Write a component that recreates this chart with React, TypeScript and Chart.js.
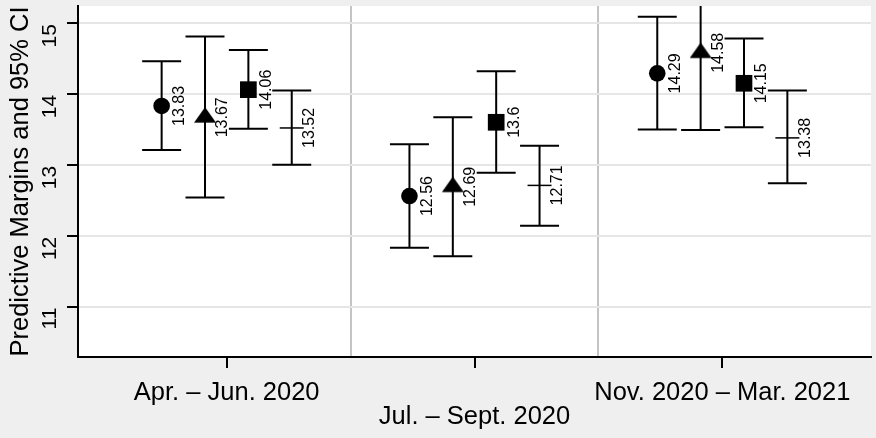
import { useEffect, useRef } from 'react';
import { Chart, registerables } from 'chart.js';

Chart.register(...registerables);

// Survey periods on the x axis; labels alternate between two rows
const periods = ['Apr. – Jun. 2020', 'Jul. – Sept. 2020', 'Nov. 2020 – Mar. 2021'];
const periodRow = [0, 1, 0];

// Predictive margins with 95% confidence bounds, one marker type per model
const circleMean = [13.83, 12.56, 14.29];
const circleLow = [13.21, 11.83, 13.5];
const circleHigh = [14.46, 13.29, 15.09];

const triangleMean = [13.67, 12.69, 14.58];
const triangleLow = [12.54, 11.71, 13.49];
const triangleHigh = [14.81, 13.67, 15.67];

const squareMean = [14.06, 13.6, 14.15];
const squareLow = [13.51, 12.89, 13.53];
const squareHigh = [14.62, 14.32, 14.78];

const plainMean = [13.52, 12.71, 13.38];
const plainLow = [13.0, 12.14, 12.74];
const plainHigh = [14.05, 13.27, 14.05];

const yTicks = [11, 12, 13, 14, 15];
const yTitle = 'Predictive Margins and 95% CI';

const FONT = '"Liberation Sans", Arial, Helvetica, sans-serif';
const CAP = 19.5;

function makeTriangle(w: number, h: number): HTMLCanvasElement {
  // canvas centred on the triangle's centroid
  const H = Math.ceil((4 / 3) * h);
  const c = document.createElement('canvas');
  c.width = w;
  c.height = H;
  const g = c.getContext('2d')!;
  const y0 = H / 2 - (2 / 3) * h;
  g.fillStyle = '#000';
  g.beginPath();
  g.moveTo(w / 2, y0);
  g.lineTo(0, y0 + h);
  g.lineTo(w, y0 + h);
  g.closePath();
  g.fill();
  return c;
}

type Series = {
  mean: number[];
  low: number[];
  high: number[];
  offset: number;
  style: any;
  radius: number;
  width: number;
};

function buildSeries(): Series[] {
  return [
    { mean: circleMean, low: circleLow, high: circleHigh, offset: -0.2625, style: 'circle', radius: 8.3, width: 0 },
    { mean: triangleMean, low: triangleLow, high: triangleHigh, offset: -0.0875, style: makeTriangle(22, 15.5), radius: 10, width: 0 },
    { mean: squareMean, low: squareLow, high: squareHigh, offset: 0.0875, style: 'rect', radius: 11.8, width: 0 },
    { mean: plainMean, low: plainLow, high: plainHigh, offset: 0.2625, style: 'line', radius: 12, width: 1.5 },
  ];
}

export default function App() {
  const ref = useRef<HTMLCanvasElement>(null);

  useEffect(() => {
    const canvas = ref.current;
    if (!canvas) return;
    const series = buildSeries();

    const frame = {
      id: 'frame',
      beforeDraw(chart: any) {
        const { ctx, chartArea: a, width, height } = chart;
        ctx.save();
        ctx.fillStyle = '#efefef';
        ctx.fillRect(0, 0, width, height);
        ctx.fillStyle = '#ffffff';
        ctx.fillRect(a.left, a.top, a.right - a.left, a.bottom - a.top);
        ctx.restore();
      },
    };

    const errorBars = {
      id: 'errorBars',
      beforeDatasetsDraw(chart: any) {
        const { ctx, chartArea: a } = chart;
        const x = chart.scales.x;
        const y = chart.scales.y;
        ctx.save();
        ctx.beginPath();
        ctx.rect(a.left, a.top, a.right - a.left, a.bottom - a.top);
        ctx.clip();
        ctx.strokeStyle = '#000';
        ctx.lineWidth = 2;
        series.forEach((s) => {
          s.mean.forEach((_, i) => {
            const px = x.getPixelForValue(i + s.offset);
            const lo = y.getPixelForValue(s.low[i]);
            const hi = y.getPixelForValue(s.high[i]);
            ctx.beginPath();
            ctx.moveTo(px, lo);
            ctx.lineTo(px, hi);
            ctx.moveTo(px - CAP, lo);
            ctx.lineTo(px + CAP, lo);
            ctx.moveTo(px - CAP, hi);
            ctx.lineTo(px + CAP, hi);
            ctx.stroke();
          });
        });
        ctx.restore();
      },
    };

    const valueLabels = {
      id: 'valueLabels',
      afterDatasetsDraw(chart: any) {
        const { ctx } = chart;
        const x = chart.scales.x;
        const y = chart.scales.y;
        ctx.save();
        ctx.fillStyle = '#000';
        ctx.font = `16px ${FONT}`;
        ctx.textAlign = 'center';
        ctx.textBaseline = 'middle';
        series.forEach((s) => {
          s.mean.forEach((v, i) => {
            const px = x.getPixelForValue(i + s.offset);
            const py = y.getPixelForValue(v);
            ctx.save();
            ctx.translate(px + 18, py);
            ctx.rotate(-Math.PI / 2);
            ctx.fillText(String(v), 0, 0);
            ctx.restore();
          });
        });
        ctx.restore();
      },
    };

    const axisText = {
      id: 'axisText',
      afterDraw(chart: any) {
        const { ctx, chartArea: a } = chart;
        const x = chart.scales.x;
        const y = chart.scales.y;
        ctx.save();
        ctx.fillStyle = '#000';

        // y tick labels, rotated
        ctx.font = `21px ${FONT}`;
        ctx.textAlign = 'right';
        ctx.textBaseline = 'middle';
        yTicks.forEach((t) => {
          ctx.save();
          ctx.translate(a.left - 28, y.getPixelForValue(t) + 1);
          ctx.rotate(-Math.PI / 2);
          ctx.fillText(String(t), 0, 0);
          ctx.restore();
        });

        // y axis title
        ctx.font = `25.5px ${FONT}`;
        ctx.textAlign = 'center';
        ctx.save();
        ctx.translate(21, (a.top + a.bottom) / 2);
        ctx.rotate(-Math.PI / 2);
        ctx.fillText(yTitle, 0, 0);
        ctx.restore();

        // period labels in two staggered rows
        ctx.font = `25.5px ${FONT}`;
        ctx.textBaseline = 'alphabetic';
        periods.forEach((p, i) => {
          ctx.fillText(p, x.getPixelForValue(i), a.bottom + 43 + periodRow[i] * 24);
        });
        ctx.restore();
      },
    };

    const chart = new Chart(canvas, {
      type: 'scatter',
      data: {
        datasets: series.map((s) => ({
          data: s.mean.map((v, i) => ({ x: i + s.offset, y: v })),
          pointStyle: s.style,
          pointRadius: s.radius,
          pointHoverRadius: s.radius,
          pointBackgroundColor: '#000',
          pointBorderColor: '#000',
          pointBorderWidth: s.width,
          showLine: false,
        })),
      },
      options: {
        responsive: false,
        animation: false,
        events: [],
        layout: { autoPadding: false, padding: { top: 6, right: 5, left: 0, bottom: 0 } },
        plugins: { legend: { display: false }, tooltip: { enabled: false } },
        scales: {
          x: {
            type: 'linear',
            min: -0.6,
            max: 2.6,
            afterBuildTicks: (s: any) => {
              s.ticks = [0, 0.5, 1, 1.5, 2].map((v) => ({ value: v }));
            },
            afterFit: (s: any) => {
              s.height = 81;
            },
            ticks: { display: false },
            grid: {
              color: (c: any) => (c.tick && c.tick.value % 1 !== 0 ? '#c4c4c4' : 'rgba(0,0,0,0)'),
              tickColor: (c: any) => (c.tick && c.tick.value % 1 === 0 ? '#000' : 'rgba(0,0,0,0)'),
              lineWidth: 2,
              tickWidth: 2,
              tickLength: 11,
            },
            border: { color: '#000', width: 2 },
          },
          y: {
            type: 'linear',
            min: 10.29,
            max: 15.24,
            afterBuildTicks: (s: any) => {
              s.ticks = yTicks.map((v) => ({ value: v }));
            },
            afterFit: (s: any) => {
              s.width = 78;
            },
            ticks: { display: false },
            grid: {
              color: '#e6e6e6',
              tickColor: '#000',
              lineWidth: 2,
              tickWidth: 2,
              tickLength: 11,
            },
            border: { color: '#000', width: 2 },
          },
        },
      },
      plugins: [frame, errorBars, valueLabels, axisText],
    });

    return () => chart.destroy();
  }, []);

  return (
    <div style={{ position: 'fixed', left: 0, top: 0, width: 876, height: 438, background: '#efefef' }}>
      <canvas ref={ref} width={876} height={438} style={{ display: 'block' }} />
    </div>
  );
}
